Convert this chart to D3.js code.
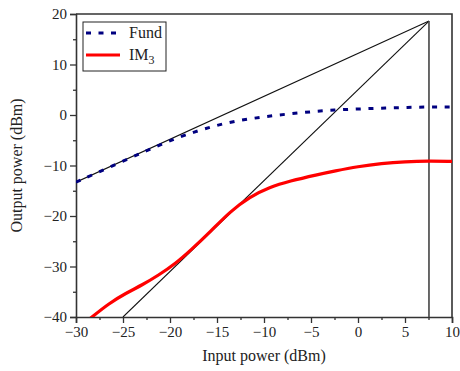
<!DOCTYPE html>
<html>
<head>
<meta charset="utf-8">
<script src="https://cdn.jsdelivr.net/npm/d3@7"></script>
<style>
  body { margin: 0; background: #fff; }
  text { font-family: "Times New Roman", "Liberation Serif", Times, serif; fill: #222; }
</style>
</head>
<body>
<div id="chart"></div>
<script>
// input power (dBm) and measured output power (dBm)
const fundX = [-30, -25, -20, -17.5, -15, -12.5, -10, -7.5, -5, -2.5, 0, 2.5, 5, 7.5, 10];
const fundY = [-13.3, -9.15, -5.0, -3.4, -2.0, -1.0, -0.35, 0.2, 0.65, 1.0, 1.2, 1.35, 1.5, 1.6, 1.6];

const im3X = [-28.5, -26.5, -24.7, -22.9, -21.2, -19.4, -17.8, -15.7, -13.6, -11.5, -9.4, -7.3, -4.3, -2.5, 0, 2.5, 5, 7.5, 10];
const im3Y = [-40.3, -37.3, -35.3, -33.6, -31.7, -29.4, -26.8, -23.1, -19.1, -16.2, -14.3, -13.1, -11.8, -11.1, -10.2, -9.6, -9.25, -9.1, -9.2];

// extrapolated lines meeting at the intercept point
const interceptX = 7.55, interceptY = 18.6;
const fundLine = [[-30, -13.3], [interceptX, interceptY]];
const im3Line = [[-25, -40], [interceptX, interceptY]];
const vLine = [[interceptX, interceptY], [interceptX, -40]];

const xTicks = [-30, -25, -20, -15, -10, -5, 0, 5, 10];
const yTicks = [-40, -30, -20, -10, 0, 10, 20];

const W = 460, H = 371;
const margin = { top: 14, right: 8, bottom: 54, left: 76 };
const innerW = 452 - margin.left, innerH = 317 - margin.top;
const serif = "'Times New Roman', 'Liberation Serif', Times, serif";

const svg = d3.select("#chart").append("svg")
    .attr("width", W)
    .attr("height", H);

const g = svg.append("g")
    .attr("transform", `translate(${margin.left},${margin.top})`);

const x = d3.scaleLinear().domain([-30, 10]).range([0, innerW]);
const y = d3.scaleLinear().domain([-40, 20]).range([innerH, 0]);

// minor ticks
const xMinor = d3.range(-30, 10.01, 2.5).filter(v => !xTicks.includes(v));
const yMinor = d3.range(-40, 20.01, 5).filter(v => !yTicks.includes(v));

g.append("g")
    .attr("transform", `translate(0,${innerH})`)
    .call(d3.axisBottom(x).tickValues(xMinor).tickSize(3).tickFormat(""))
    .call(a => a.select(".domain").remove())
    .call(a => a.selectAll("line").attr("stroke", "#333").attr("stroke-width", 1.3));

g.append("g")
    .call(d3.axisLeft(y).tickValues(yMinor).tickSize(3).tickFormat(""))
    .call(a => a.select(".domain").remove())
    .call(a => a.selectAll("line").attr("stroke", "#333").attr("stroke-width", 1.3));

// major axes
const xAxis = g.append("g")
    .attr("transform", `translate(0,${innerH})`)
    .call(d3.axisBottom(x).tickValues(xTicks).tickSize(6).tickPadding(3).tickFormat(d3.format("d")));

const yAxis = g.append("g")
    .call(d3.axisLeft(y).tickValues(yTicks).tickSize(6).tickPadding(3).tickFormat(d3.format("d")));

[xAxis, yAxis].forEach(a => {
    a.attr("font-family", serif).attr("font-size", 15);
    a.select(".domain").attr("stroke", "#333").attr("stroke-width", 1.6);
    a.selectAll("line").attr("stroke", "#333").attr("stroke-width", 1.3);
    a.selectAll("text").attr("fill", "#333");
});

// frame top and right
g.append("path")
    .attr("d", `M0,0H${innerW}V${innerH}`)
    .attr("fill", "none")
    .attr("stroke", "#333")
    .attr("stroke-width", 1.6);

const line = d3.line().x(d => x(d[0])).y(d => y(d[1]));
const curve = d3.line().x(d => x(d[0])).y(d => y(d[1])).curve(d3.curveBasis);

g.append("clipPath").attr("id", "clip")
    .append("rect").attr("width", innerW).attr("height", innerH);

const plot = g.append("g").attr("clip-path", "url(#clip)");

// tangents
[fundLine, im3Line].forEach(pts => {
    plot.append("path")
        .attr("d", line(pts))
        .attr("fill", "none")
        .attr("stroke", "#111")
        .attr("stroke-width", 1.1);
});

plot.append("path")
    .attr("d", line(vLine))
    .attr("fill", "none")
    .attr("stroke", "#444")
    .attr("stroke-width", 1.6);

// measured curves
plot.append("path")
    .attr("d", curve(im3X.map((v, i) => [v, im3Y[i]])))
    .attr("fill", "none")
    .attr("stroke", "#ff0000")
    .attr("stroke-width", 3.2);

plot.append("path")
    .attr("d", curve(fundX.map((v, i) => [v, fundY[i]])))
    .attr("fill", "none")
    .attr("stroke", "#000080")
    .attr("stroke-width", 3)
    .attr("stroke-dasharray", "5,7.7");

// axis titles
svg.append("text")
    .attr("x", margin.left + innerW / 2)
    .attr("y", 361)
    .attr("text-anchor", "middle")
    .style("font-size", "16px")
    .text("Input power (dBm)");

svg.append("text")
    .attr("transform", `translate(22,${margin.top + innerH / 2}) rotate(-90)`)
    .attr("text-anchor", "middle")
    .style("font-size", "16px")
    .text("Output power (dBm)");

// legend
const legend = svg.append("g").attr("transform", "translate(83,22)");
legend.append("rect")
    .attr("width", 83)
    .attr("height", 49)
    .attr("fill", "#fff")
    .attr("stroke", "#222")
    .attr("stroke-width", 1);

legend.append("line")
    .attr("x1", 3).attr("x2", 37).attr("y1", 11).attr("y2", 11)
    .attr("stroke", "#000080").attr("stroke-width", 3)
    .attr("stroke-dasharray", "5,7.5");
legend.append("text")
    .attr("x", 46).attr("y", 16)
    .style("font-size", "16px")
    .text("Fund");

legend.append("line")
    .attr("x1", 3).attr("x2", 37).attr("y1", 33).attr("y2", 33)
    .attr("stroke", "#ff0000").attr("stroke-width", 3);
const im = legend.append("text")
    .attr("x", 46).attr("y", 38)
    .style("font-size", "16px");
im.append("tspan").text("IM");
im.append("tspan").attr("dy", 4).style("font-size", "12px").text("3");
</script>
</body>
</html>
